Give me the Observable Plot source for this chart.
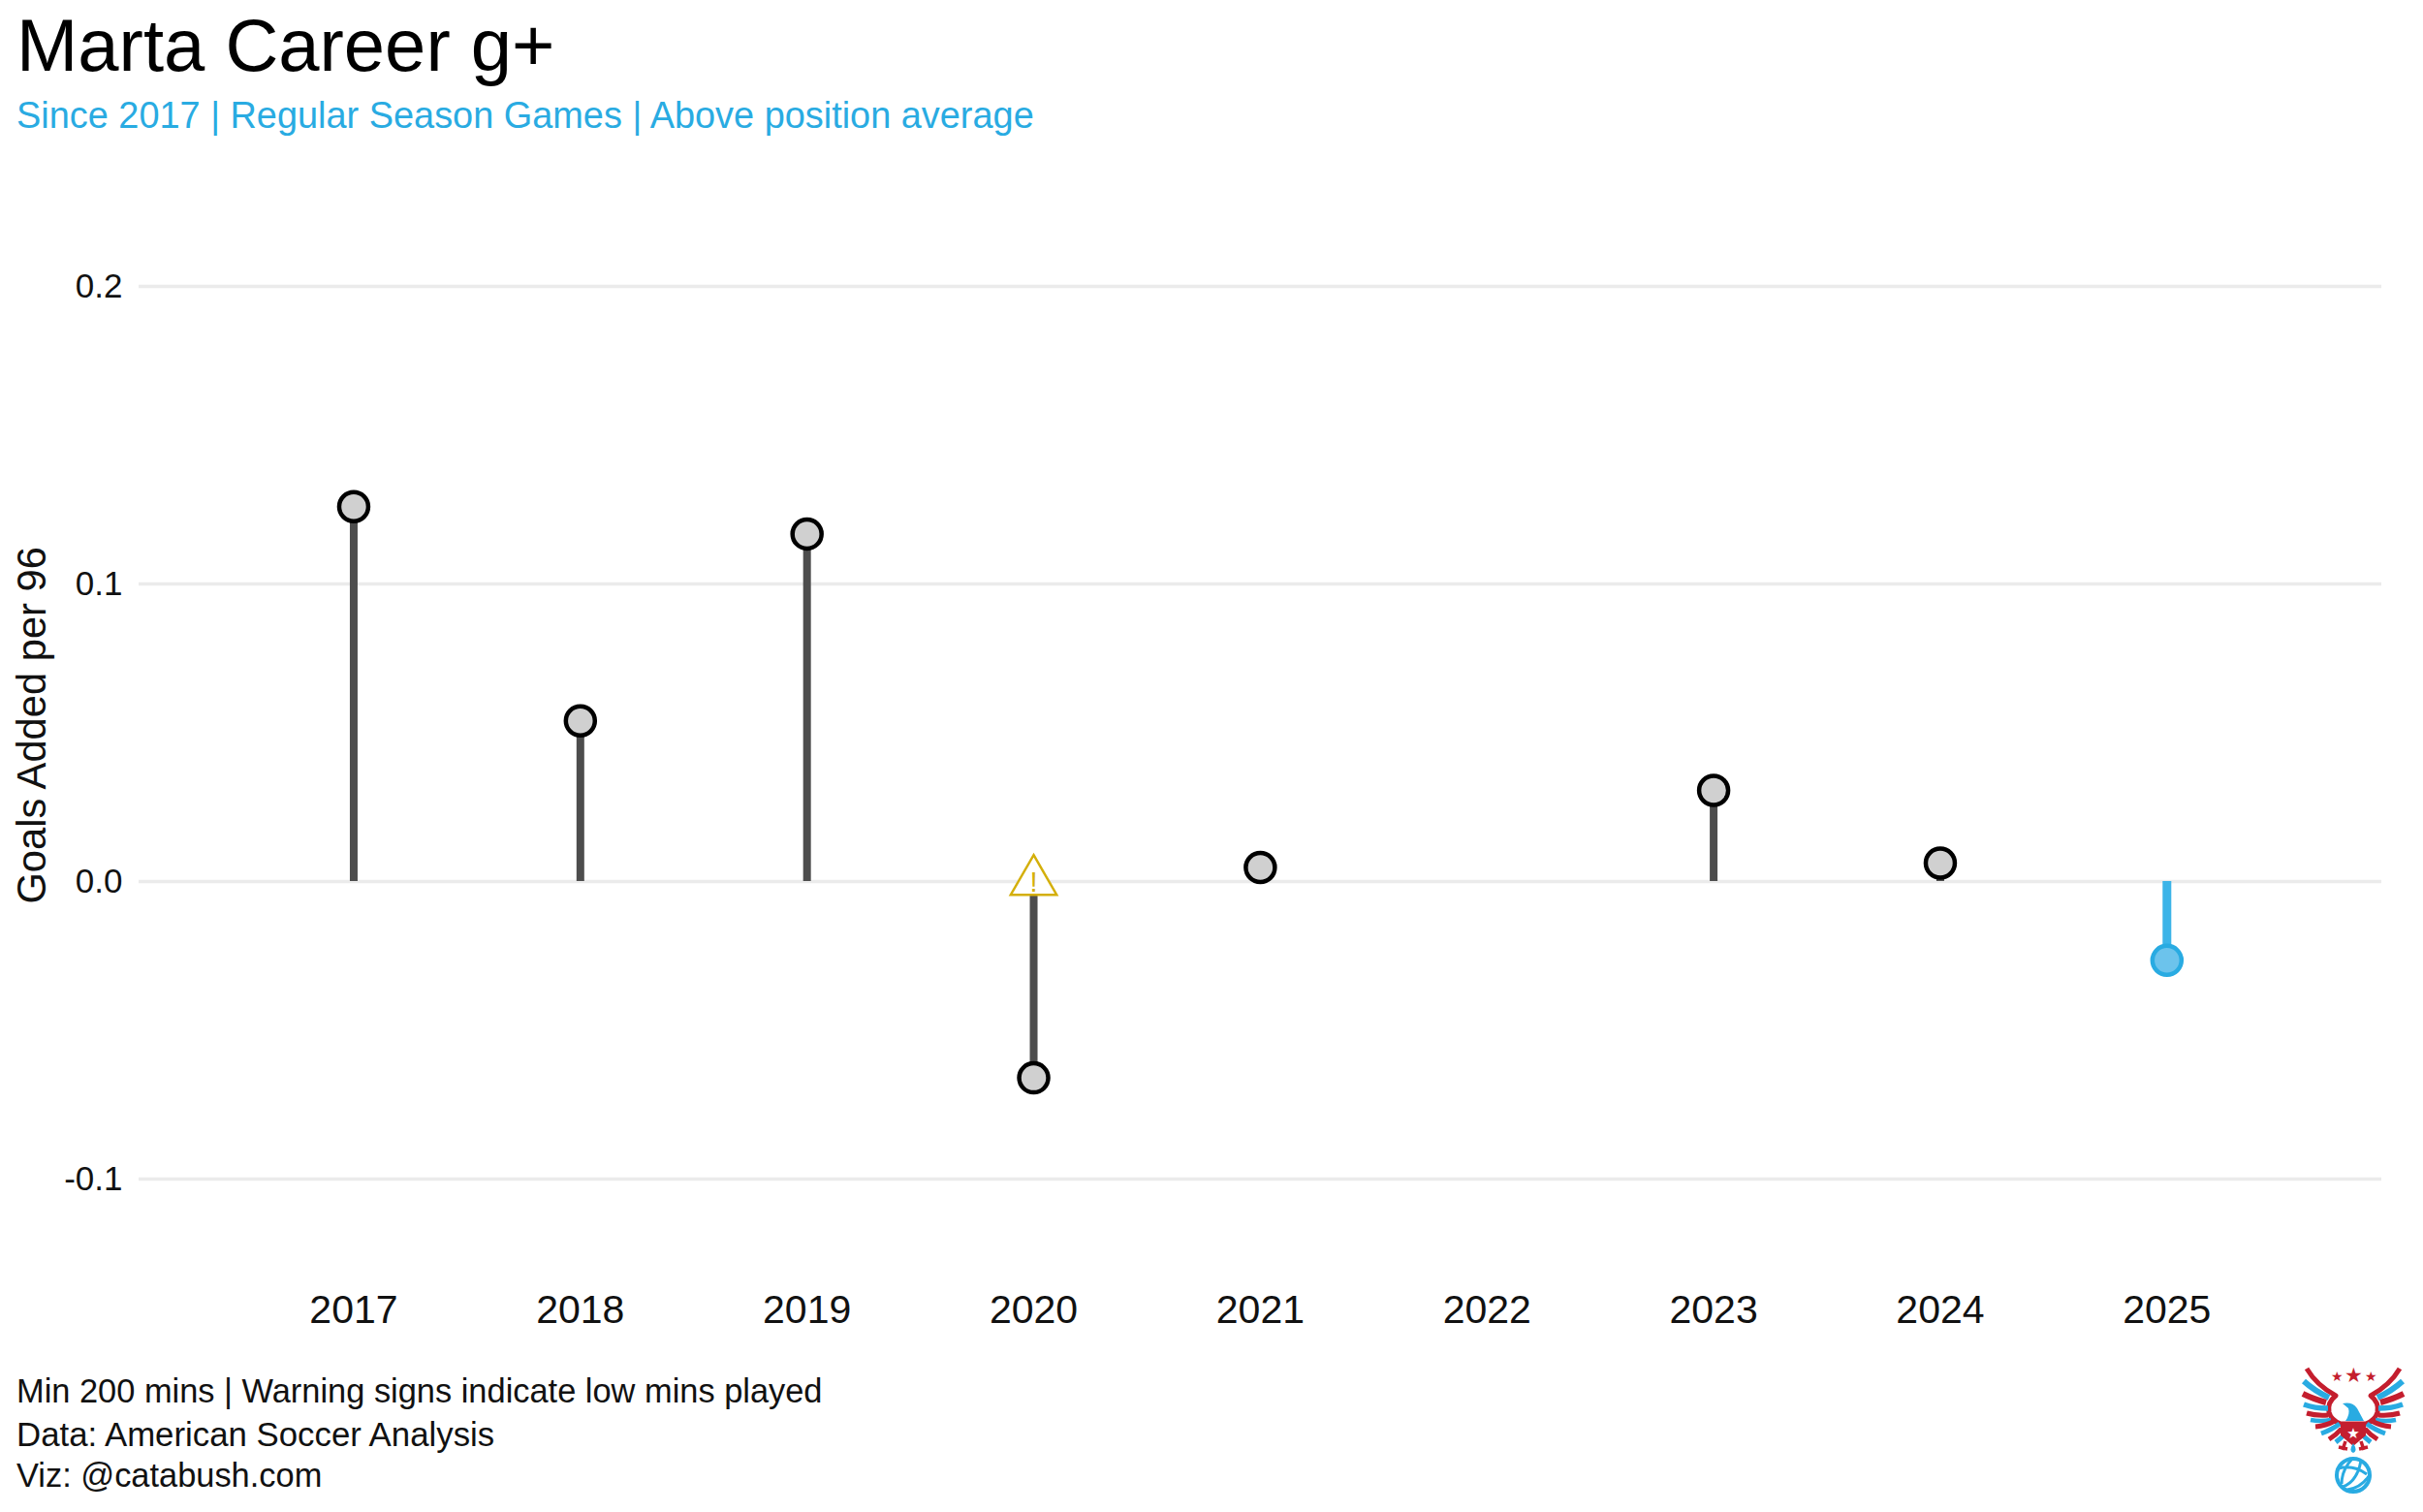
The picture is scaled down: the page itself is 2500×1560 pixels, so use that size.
<!DOCTYPE html>
<html>
<head>
<meta charset="utf-8">
<script src="https://cdn.jsdelivr.net/npm/d3@7"></script>
<script src="https://cdn.jsdelivr.net/npm/@observablehq/plot@0.6"></script>
<style>
html,body{margin:0;padding:0;background:#fff;width:2500px;height:1560px;overflow:hidden;font-family:"Liberation Sans",Arial,sans-serif}
#page{position:relative;width:2500px;height:1560px}
#chart{position:absolute;left:0;top:130px}
#head{position:absolute;left:17px;top:0;width:2000px;z-index:2}
#title{position:absolute;left:0;top:4px;font-size:76px;line-height:86px;color:#000;white-space:nowrap}
#sub{position:absolute;left:0;top:97px;font-size:37.9px;line-height:44px;color:#29abe2;white-space:nowrap}
.cap{position:absolute;left:17px;font-size:34.4px;line-height:44px;color:#111;white-space:nowrap}
#logo{position:absolute;left:2370px;top:1405px}
svg text{font-family:"Liberation Sans",Arial,sans-serif}
</style>
</head>
<body>
<div id="page">
<div id="chart"></div>
<div id="head"><div id="title">Marta Career g+</div><div id="sub">Since 2017 | Regular Season Games | Above position average</div></div>
<div class="cap" style="top:1413px">Min 200 mins | Warning signs indicate low mins played</div>
<div class="cap" style="top:1458px;font-size:34.8px">Data: American Soccer Analysis</div>
<div class="cap" style="top:1500px">Viz: @catabush.com</div>
<svg id="logo" width="120" height="150" viewBox="0 0 120 150" fill="none">
 <path d="M10 7 Q20 24 40 35 Q31 42 33 52 Q35 60 45 64 L71 64 Q81 60 83 52 Q85 42 76 35 Q96 24 106 7" stroke="#c41e2e" stroke-width="5" stroke-linejoin="round"/>
 <g stroke-linecap="butt">
  <path d="M7 20 Q18 30 33 37 M109 20 Q98 30 83 37" stroke="#29abe2" stroke-width="6"/>
  <path d="M6 33 Q16 38 30 42 M110 33 Q100 38 86 42" stroke="#c41e2e" stroke-width="6"/>
  <path d="M7 44 Q18 48 32 48 M109 44 Q98 48 84 48" stroke="#29abe2" stroke-width="5.5"/>
  <path d="M10 53 Q20 56 32 55 M106 53 Q96 56 84 55" stroke="#c41e2e" stroke-width="5"/>
  <path d="M14 60 Q24 62 35 60 M102 60 Q92 62 81 60" stroke="#29abe2" stroke-width="4.5"/>
  <path d="M19 67 Q30 66 39 61 M97 67 Q86 66 77 61" stroke="#c41e2e" stroke-width="5"/>
  <path d="M25 74 Q36 70 44 64 M91 74 Q80 70 72 64" stroke="#29abe2" stroke-width="5"/>
  <path d="M33 80 Q41 75 46 69 M83 80 Q75 75 70 69" stroke="#c41e2e" stroke-width="5"/>
  <path d="M40 83 Q45 79 49 75 M76 83 Q71 79 67 75" stroke="#29abe2" stroke-width="5"/>
 </g>
 <path d="M45 62 L71 62 L71 76 L58 87 L45 76 Z" fill="#c41e2e"/>
 <path d="M47 43 Q57 41 62 48 L69 61 L50 61 Q55 54 53 48 Z" fill="#29abe2"/>
 <g fill="#c41e2e" font-size="14" text-anchor="middle" style="font-family:'DejaVu Sans'">
  <text x="41" y="20">★</text><text x="58" y="21" font-size="21">★</text><text x="76" y="20">★</text>
 </g>
 <text x="58" y="79" fill="#fff" font-size="15" text-anchor="middle" style="font-family:'DejaVu Sans'">★</text>
 <path d="M50 82 L47 91 M43 88 L52 90 M66 82 L69 91 M73 88 L64 90" stroke="#c41e2e" stroke-width="3.5"/>
 <path d="M58 84 Q63 92 58 94 Q53 92 58 84 Z" fill="#29abe2"/>
 <circle cx="58" cy="117" r="17" fill="#fff" stroke="#29abe2" stroke-width="4"/>
 <path d="M43 110 Q58 106 72 116 M47 129 Q62 124 66 102 M57 100 Q46 112 46 126 M74 118 Q66 130 52 132" stroke="#29abe2" stroke-width="3"/>
</svg>
</div>
<script>
const years = [2017, 2018, 2019, 2020, 2021, 2023, 2024, 2025];
const goalsAdded = [0.126, 0.054, 0.1168, -0.066, 0.0047, 0.0306, 0.0062, -0.0265];
const highlight = [false, false, false, false, false, false, false, true];
const tickYears = [2017, 2018, 2019, 2020, 2021, 2022, 2023, 2024, 2025];
const tickValues = [-0.1, 0, 0.1, 0.2];
const warningYears = [2020];
const warningLevel = [0];

const rows = years.map((year, i) => ({year, value: goalsAdded[i], current: highlight[i]}));
const past = rows.filter(d => !d.current);
const current = rows.filter(d => d.current);
const warnings = warningYears.map((year, i) => ({year, value: warningLevel[i]}));

const fmtY = d => d === 0 ? "0.0" : d < 0 ? "-" + Math.abs(d) : d.toFixed(1);

const chart = Plot.plot({
  width: 2500,
  height: 1260,
  marginLeft: 143,
  marginRight: 43,
  marginTop: 165,
  marginBottom: 174,
  style: {background: "#fff", overflow: "visible"},
  x: {domain: [2017 - 0.947, 2025 + 0.948], range: [143, 2457]},
  y: {domain: [-0.1, 0.2]},
  marks: [
    Plot.ruleY(tickValues, {stroke: "#ebebeb", strokeWidth: 3.5, strokeOpacity: 1}),
    Plot.axisX({ticks: tickYears, tickFormat: d => String(d), tickSize: 0, tickPadding: 119, fontSize: 41, color: "#111", label: null, anchor: "bottom", lineHeight: 1}),
    Plot.axisY({ticks: tickValues, tickFormat: fmtY, tickSize: 0, tickPadding: 17, fontSize: 35, color: "#111", label: null, anchor: "left"}),
    Plot.text(["Goals Added per 96"], {text: d => d, frameAnchor: "left", textAnchor: "middle", y: [0.0525], dx: -110, rotate: -90, fontSize: 41.7, fill: "#111"}),
    Plot.ruleX(past, {x: "year", y1: 0, y2: "value", stroke: "#4d4d4d", strokeWidth: 8}),
    Plot.ruleX(current, {x: "year", y1: 0, y2: "value", stroke: "#3cb4e8", strokeWidth: 9}),
    Plot.dot(past, {x: "year", y: "value", r: 15, fill: "#d0d0d0", stroke: "#000", strokeWidth: 4.5}),
    Plot.dot(current, {x: "year", y: "value", r: 15, fill: "#6cc3ec", stroke: "#29abe2", strokeWidth: 4.5}),
    Plot.dot(warnings, {x: "year", y: "value", symbol: "triangle", r: 17.6, fill: "#fff", stroke: "#d4af0a", strokeWidth: 2.5}),
    Plot.text(warnings, {x: "year", y: "value", text: () => "!", fontSize: 29, fill: "#d4af0a", dy: 1})
  ]
});
document.getElementById("chart").appendChild(chart);
</script>
</body>
</html>
